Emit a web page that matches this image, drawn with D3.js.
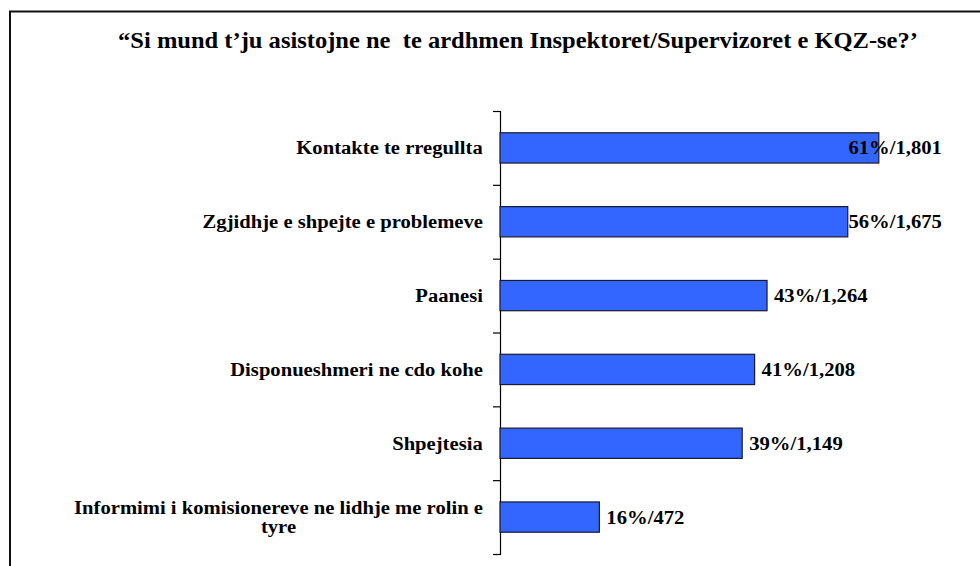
<!DOCTYPE html>
<html>
<head>
<meta charset="utf-8">
<script src="https://cdn.jsdelivr.net/npm/d3@7"></script>
<style>
  html, body { margin: 0; padding: 0; background: #fff; }
  svg { display: block; }
  text { font-family: "Liberation Serif", "Times New Roman", serif; font-weight: bold; fill: #000; }
</style>
</head>
<body>
<svg id="chart" width="980" height="566"></svg>
<script>
const titleText = "\u201CSi mund t\u2019ju asistojne ne  te ardhmen Inspektoret/Supervizoret e KQZ-se?\u2019";
const categories = [
  "Kontakte te rregullta",
  "Zgjidhje e shpejte e problemeve",
  "Paanesi",
  "Disponueshmeri ne cdo kohe",
  "Shpejtesia",
  "Informimi i komisionereve ne lidhje me rolin e|tyre"
];
const percents = [61, 56, 43, 41, 39, 16];
const counts = [1801, 1675, 1264, 1208, 1149, 472];

const svg = d3.select("#chart");

// outer frame (extends past right/bottom edge like the reference)
svg.append("rect")
  .attr("x", 10).attr("y", 11.5)
  .attr("width", 1000).attr("height", 600)
  .attr("fill", "#fff").attr("stroke", "#111").attr("stroke-width", 2);

// title, fitted to the reference's width
{
  const t = svg.append("text")
    .attr("text-anchor", "middle")
    .attr("font-size", 23)
    .style("white-space", "pre")
    .text(titleText);
  const w = t.node().getComputedTextLength();
  const sx = 800 / w;
  t.attr("transform", `translate(518,48) scale(${sx},1)`);
}

const x = d3.scaleLinear().domain([0, 100]).range([500, 1121]);
const y = d3.scaleBand().domain(d3.range(categories.length)).range([111, 554])
  .paddingInner(0.59).paddingOuter(0.295);

// axis line + ticks between categories
const axisG = svg.append("g").attr("transform", "translate(500,0)");
const axisY = d3.scaleLinear().domain([0, categories.length]).range([111, 554]);
const ax = d3.axisLeft(axisY).ticks(categories.length).tickSize(7).tickSizeOuter(7).tickFormat("");
axisG.call(ax);
axisG.select(".domain").attr("stroke", "#000").attr("stroke-width", 1.2);
axisG.selectAll(".tick line").attr("stroke", "#000").attr("stroke-width", 1.2);

// category labels (right aligned, multi-line centered)
const catSize = 19;
const catSx = 187 / (145 * catSize / 16);
categories.forEach((c, i) => {
  const lines = c.split("|");
  const cy = y(i) + y.bandwidth() / 2;
  const lh = 19;
  const g = svg.append("g");
  const t = g.append("text").attr("font-size", catSize).attr("text-anchor", "middle");
  lines.forEach((ln, j) => {
    t.append("tspan").attr("x", 0)
      .attr("y", cy + 6.5 + (j - (lines.length - 1) / 2) * lh)
      .text(ln);
  });
  const bb = t.node().getBBox();
  g.attr("transform", `translate(${483 - bb.width * catSx / 2},0) scale(${catSx},1)`);
});

// bars
svg.selectAll("rect.bar").data(percents).enter().append("rect")
  .attr("class", "bar")
  .attr("x", x(0))
  .attr("y", (d, i) => y(i))
  .attr("width", d => x(d) - x(0))
  .attr("height", y.bandwidth())
  .attr("fill", "#3366FF")
  .attr("stroke", "#1a1a2e").attr("stroke-width", 1.2);

// value labels
const fmt = d3.format(",");
const valSx = 1.06;
percents.forEach((p, i) => {
  const t = svg.append("text")
    .attr("font-size", 19.5)
    .text(p + "%/" + fmt(counts[i]));
  const w = t.node().getComputedTextLength() * valSx;
  const xs = Math.min(x(p) + 7, 942 - w);
  t.attr("transform", `translate(${xs},${y(i) + y.bandwidth() / 2 + 6.5}) scale(${valSx},1)`);
});
</script>
</body>
</html>
